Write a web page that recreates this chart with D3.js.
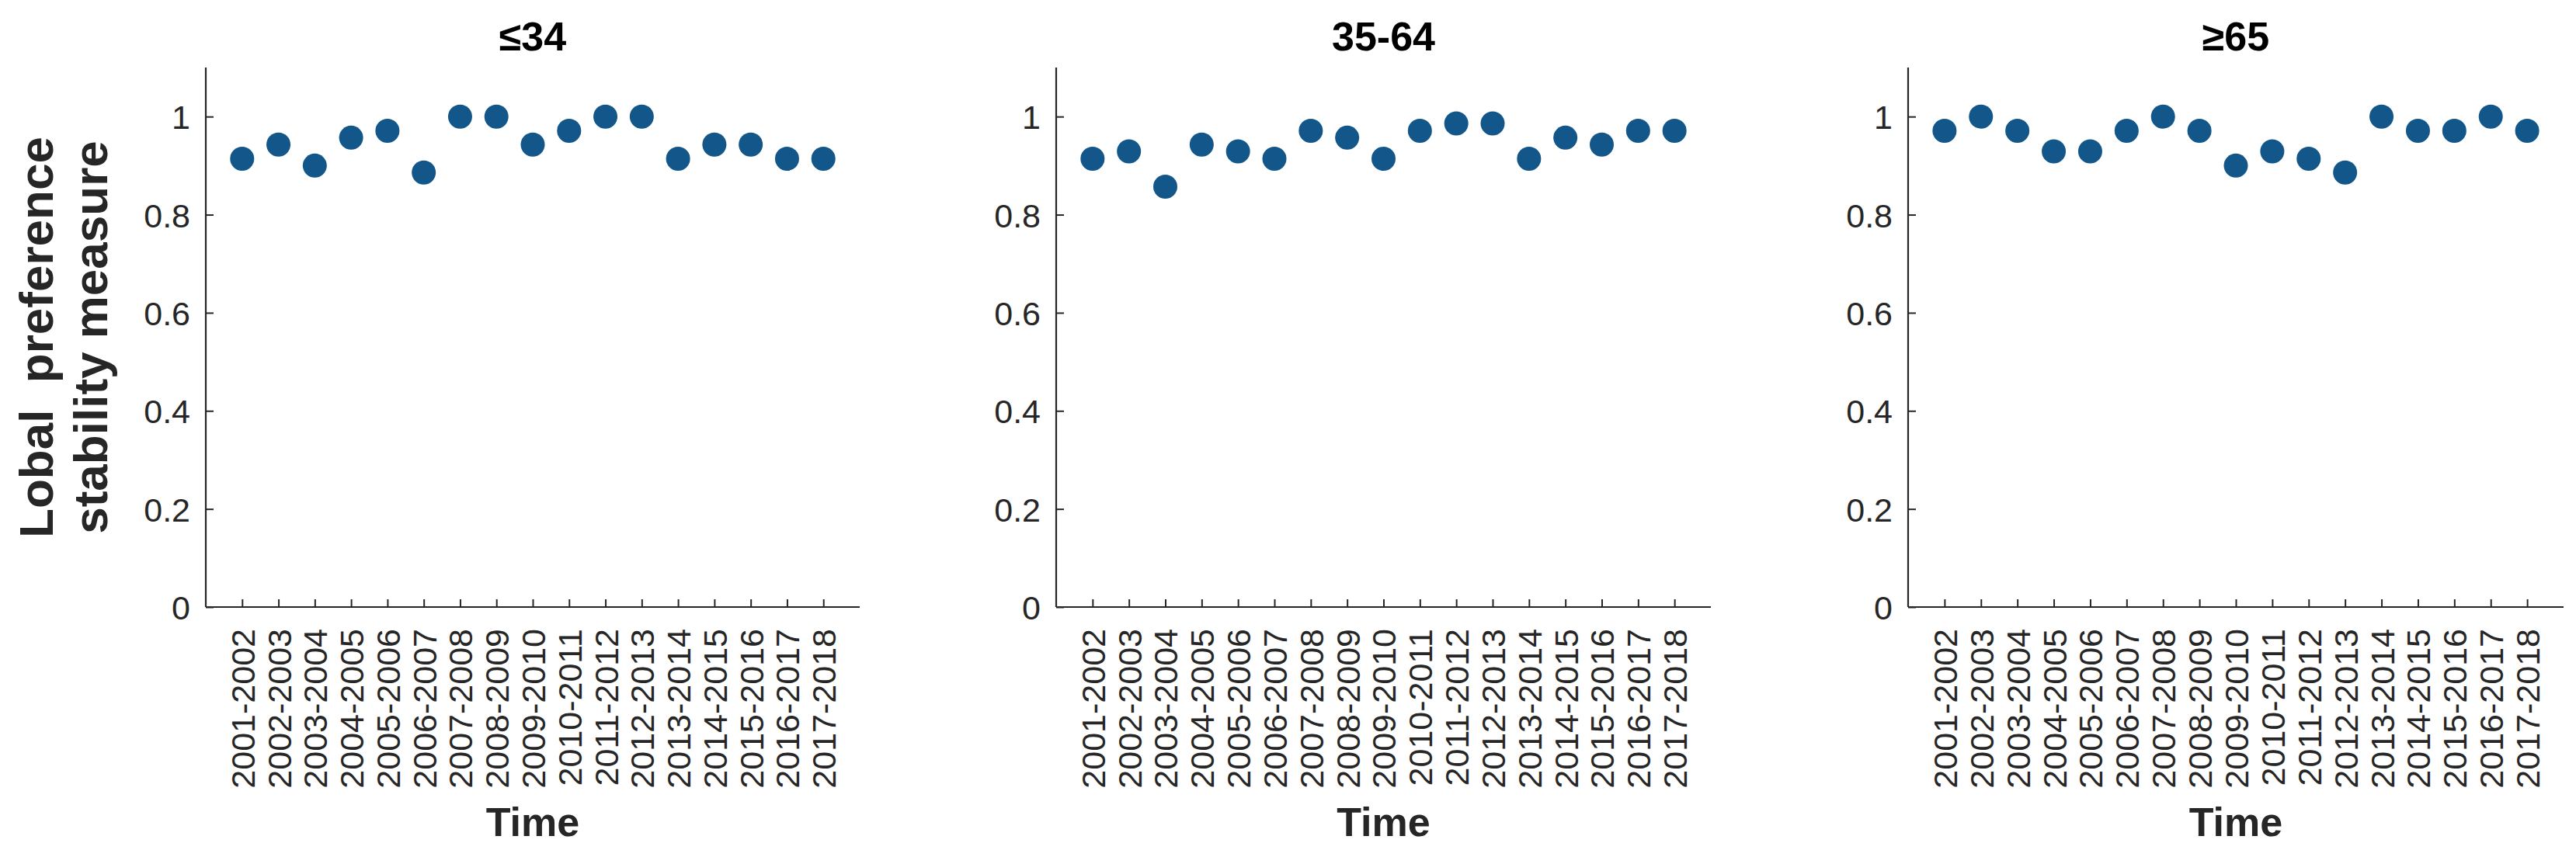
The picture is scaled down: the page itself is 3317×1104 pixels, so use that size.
<!DOCTYPE html>
<html>
<head>
<meta charset="utf-8">
<script src="https://cdn.jsdelivr.net/npm/d3@7"></script>
<style>
  html, body { margin: 0; padding: 0; background: #fff; }
  svg { display: block; }
  text { font-family: "Liberation Sans", Arial, Helvetica, sans-serif; }
</style>
</head>
<body>
<svg id="chart" width="3317" height="1104"></svg>
<script>
// ---- data ----
const periods = ["2001-2002","2002-2003","2003-2004","2004-2005","2005-2006","2006-2007",
  "2007-2008","2008-2009","2009-2010","2010-2011","2011-2012","2012-2013","2013-2014",
  "2014-2015","2015-2016","2016-2017","2017-2018"];
const panelTitles = ["\u226434", "35-64", "\u226565"];
const ageUnder35 = [0.914, 0.943, 0.900, 0.957, 0.971, 0.886, 1.000, 1.000, 0.943, 0.971, 1.000, 1.000, 0.914, 0.943, 0.943, 0.914, 0.914];
const age35to64 = [0.914, 0.929, 0.857, 0.943, 0.929, 0.914, 0.971, 0.957, 0.914, 0.971, 0.986, 0.986, 0.914, 0.957, 0.943, 0.971, 0.971];
const age65plus = [0.971, 1.000, 0.971, 0.929, 0.929, 0.971, 1.000, 0.971, 0.900, 0.929, 0.914, 0.886, 1.000, 0.971, 0.971, 1.000, 0.971];
const yTicks = [0, 0.2, 0.4, 0.6, 0.8, 1];
const yLabelLines = ["Lobal  preference", "stability measure"];
const xLabelText = "Time";

const seriesList = [ageUnder35, age35to64, age65plus];

// ---- layout ----
const panels = [
  { left: 265, right: 1107 },
  { left: 1360, right: 2203 },
  { left: 2457, right: 3301 }
];
const yBottom = 782, yTop = 87;
const axisColor = "#262626";
const dotColor = "#13568a";

const svg = d3.select("#chart");

const y = d3.scaleLinear().domain([0, 1.1]).range([yBottom, yTop]);

panels.forEach((p, i) => {
  const g = svg.append("g");
  const x = d3.scaleLinear().domain([0, periods.length + 1]).range([p.left, p.right]);

  // x axis
  const xAxis = d3.axisBottom(x)
    .tickValues(d3.range(1, periods.length + 1))
    .tickFormat(d => periods[d - 1])
    .tickSizeInner(-10)
    .tickSizeOuter(0);
  const gx = g.append("g")
    .attr("transform", `translate(0,${yBottom})`)
    .call(xAxis);
  gx.select(".domain").attr("stroke", axisColor).attr("stroke-width", 2.2)
    .attr("d", `M${p.left},0H${p.right}`);
  gx.selectAll(".tick line").attr("stroke", axisColor).attr("stroke-width", 2);
  gx.selectAll(".tick text")
    .attr("fill", axisColor)
    .attr("font-size", 43)
    .attr("transform", "rotate(-90)")
    .attr("text-anchor", "end")
    .attr("x", -28)
    .attr("y", 0)
    .attr("dy", "0.36em");

  // y axis
  const yAxis = d3.axisLeft(y)
    .tickValues(yTicks)
    .tickFormat(d3.format("~g"))
    .tickSizeInner(-10)
    .tickSizeOuter(0);
  const gy = g.append("g")
    .attr("transform", `translate(${p.left},0)`)
    .call(yAxis);
  gy.select(".domain").attr("stroke", axisColor).attr("stroke-width", 2.2)
    .attr("d", `M0,${yBottom}V${yTop}`);
  gy.selectAll(".tick line").attr("stroke", axisColor).attr("stroke-width", 2);
  gy.selectAll(".tick text")
    .attr("fill", axisColor)
    .attr("font-size", 43)
    .attr("x", -20)
    .attr("dy", "0.36em");

  // dots
  g.append("g").selectAll("circle")
    .data(seriesList[i])
    .join("circle")
    .attr("cx", (d, j) => x(j + 1))
    .attr("cy", d => y(d))
    .attr("r", 15.5)
    .attr("fill", dotColor);

  // title
  g.append("text")
    .attr("x", (p.left + p.right) / 2)
    .attr("y", 65)
    .attr("text-anchor", "middle")
    .attr("font-size", 52)
    .attr("font-weight", "bold")
    .attr("fill", "#000")
    .text(panelTitles[i]);

  // x label
  g.append("text")
    .attr("x", (p.left + p.right) / 2)
    .attr("y", 1077)
    .attr("text-anchor", "middle")
    .attr("font-size", 52)
    .attr("font-weight", "bold")
    .attr("fill", axisColor)
    .text(xLabelText);
});

// y label (two lines, rotated)
const yl = svg.append("text")
  .attr("transform", `translate(0,${(yTop + yBottom) / 2 + 0}) rotate(-90)`)
  .attr("text-anchor", "middle")
  .attr("font-size", 62)
  .attr("font-weight", "bold")
  .attr("fill", axisColor)
  .attr("xml:space", "preserve")
  .style("white-space", "pre");
yl.selectAll("tspan")
  .data(yLabelLines)
  .join("tspan")
  .attr("x", 0)
  .attr("y", (d, k) => 68 + k * 70)
  .text(d => d);
</script>
</body>
</html>
